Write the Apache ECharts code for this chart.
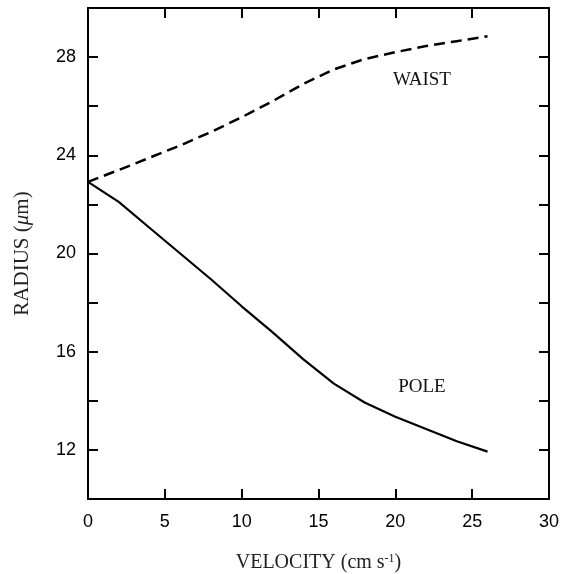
<!DOCTYPE html>
<html>
<head>
<meta charset="utf-8">
<script src="https://cdn.jsdelivr.net/npm/echarts@6/dist/echarts.min.js"></script>
<style>
  html, body { margin: 0; padding: 0; background: #fff; }
  #chart { width: 572px; height: 574px; }
</style>
</head>
<body>
<div id="chart"></div>
<script>
// data
var velocity = [0, 2, 4, 6, 8, 10, 12, 14, 16, 18, 20, 22, 24, 26];
var waist = [22.92, 23.4, 23.9, 24.4, 24.95, 25.55, 26.2, 26.9, 27.5, 27.92, 28.2, 28.45, 28.65, 28.85];
var pole = [22.92, 22.1, 21.05, 20.0, 18.95, 17.85, 16.8, 15.7, 14.7, 13.93, 13.35, 12.85, 12.35, 11.93];
var waistLabel = [21.73, 27.06];
var poleLabel = [21.73, 14.56];

function pairs(xs, ys) {
    return xs.map(function (x, i) { return [x, ys[i]]; });
}

var axisColor = '#000';
var sans = '"Liberation Sans", Arial, sans-serif';
var serif = '"Liberation Serif", "Times New Roman", serif';
var axisW = 2;

var myChart = echarts.init(document.getElementById('chart'));
var option = {
    animation: false,
    backgroundColor: '#fff',
    grid: { left: 88, right: 23, top: 8, bottom: 75, outerBoundsMode: 'none' },
    xAxis: [{
        type: 'value',
        min: 0, max: 30, interval: 5,
        name: 'VELOCITY (cm s{sup|-1})',
        nameLocation: 'middle',
        nameGap: 54,
        nameTextStyle: {
            fontFamily: serif, fontSize: 20, color: '#222',
            rich: { sup: { fontFamily: serif, fontSize: 12, verticalAlign: 'top', padding: [0, 0, 8, 0] } }
        },
        axisLine: { onZero: false, lineStyle: { color: axisColor, width: axisW } },
        axisTick: { inside: true, length: 10, lineStyle: { color: axisColor, width: axisW } },
        axisLabel: { fontFamily: sans, fontSize: 18, color: '#000', margin: 14 },
        splitLine: { show: false }
    }, {
        type: 'value',
        position: 'top',
        min: 0, max: 30, interval: 5,
        axisLine: { show: true, onZero: false, lineStyle: { color: axisColor, width: axisW } },
        axisTick: { show: true, inside: true, length: 10, lineStyle: { color: axisColor, width: axisW } },
        axisLabel: { show: false },
        splitLine: { show: false }
    }],
    yAxis: [{
        type: 'value',
        min: 10, max: 30, interval: 2,
        name: 'RADIUS ({i|μ}m)',
        nameLocation: 'middle',
        nameGap: 55,
        nameTextStyle: {
            fontFamily: serif, fontSize: 21, color: '#222',
            rich: { i: { fontFamily: serif, fontSize: 21, fontStyle: 'italic' } }
        },
        axisLine: { onZero: false, lineStyle: { color: axisColor, width: axisW } },
        axisTick: { inside: true, length: 10, lineStyle: { color: axisColor, width: axisW } },
        axisLabel: {
            fontFamily: sans, fontSize: 18, color: '#000', margin: 12,
            formatter: function (v) { return v % 4 === 0 && v !== 10 && v !== 30 ? String(v) : ''; }
        },
        splitLine: { show: false }
    }, {
        type: 'value',
        position: 'right',
        min: 10, max: 30, interval: 2,
        axisLine: { show: true, onZero: false, lineStyle: { color: axisColor, width: axisW } },
        axisTick: { show: true, inside: true, length: 10, lineStyle: { color: axisColor, width: axisW } },
        axisLabel: { show: false },
        splitLine: { show: false }
    }],
    series: [{
        name: 'WAIST',
        type: 'line',
        data: pairs(velocity, waist),
        symbol: 'none',
        lineStyle: { color: '#000', width: 2.5, type: [11, 6] },
        markPoint: {
            symbol: 'circle', symbolSize: 0,
            label: { show: true, formatter: 'WAIST', fontFamily: serif, fontSize: 19, color: '#111', position: 'inside' },
            data: [{ coord: waistLabel }]
        }
    }, {
        name: 'POLE',
        type: 'line',
        data: pairs(velocity, pole),
        symbol: 'none',
        lineStyle: { color: '#000', width: 2.2 },
        markPoint: {
            symbol: 'circle', symbolSize: 0,
            label: { show: true, formatter: 'POLE', fontFamily: serif, fontSize: 19, color: '#111', position: 'inside' },
            data: [{ coord: poleLabel }]
        }
    }]
};
myChart.setOption(option);
</script>
</body>
</html>
